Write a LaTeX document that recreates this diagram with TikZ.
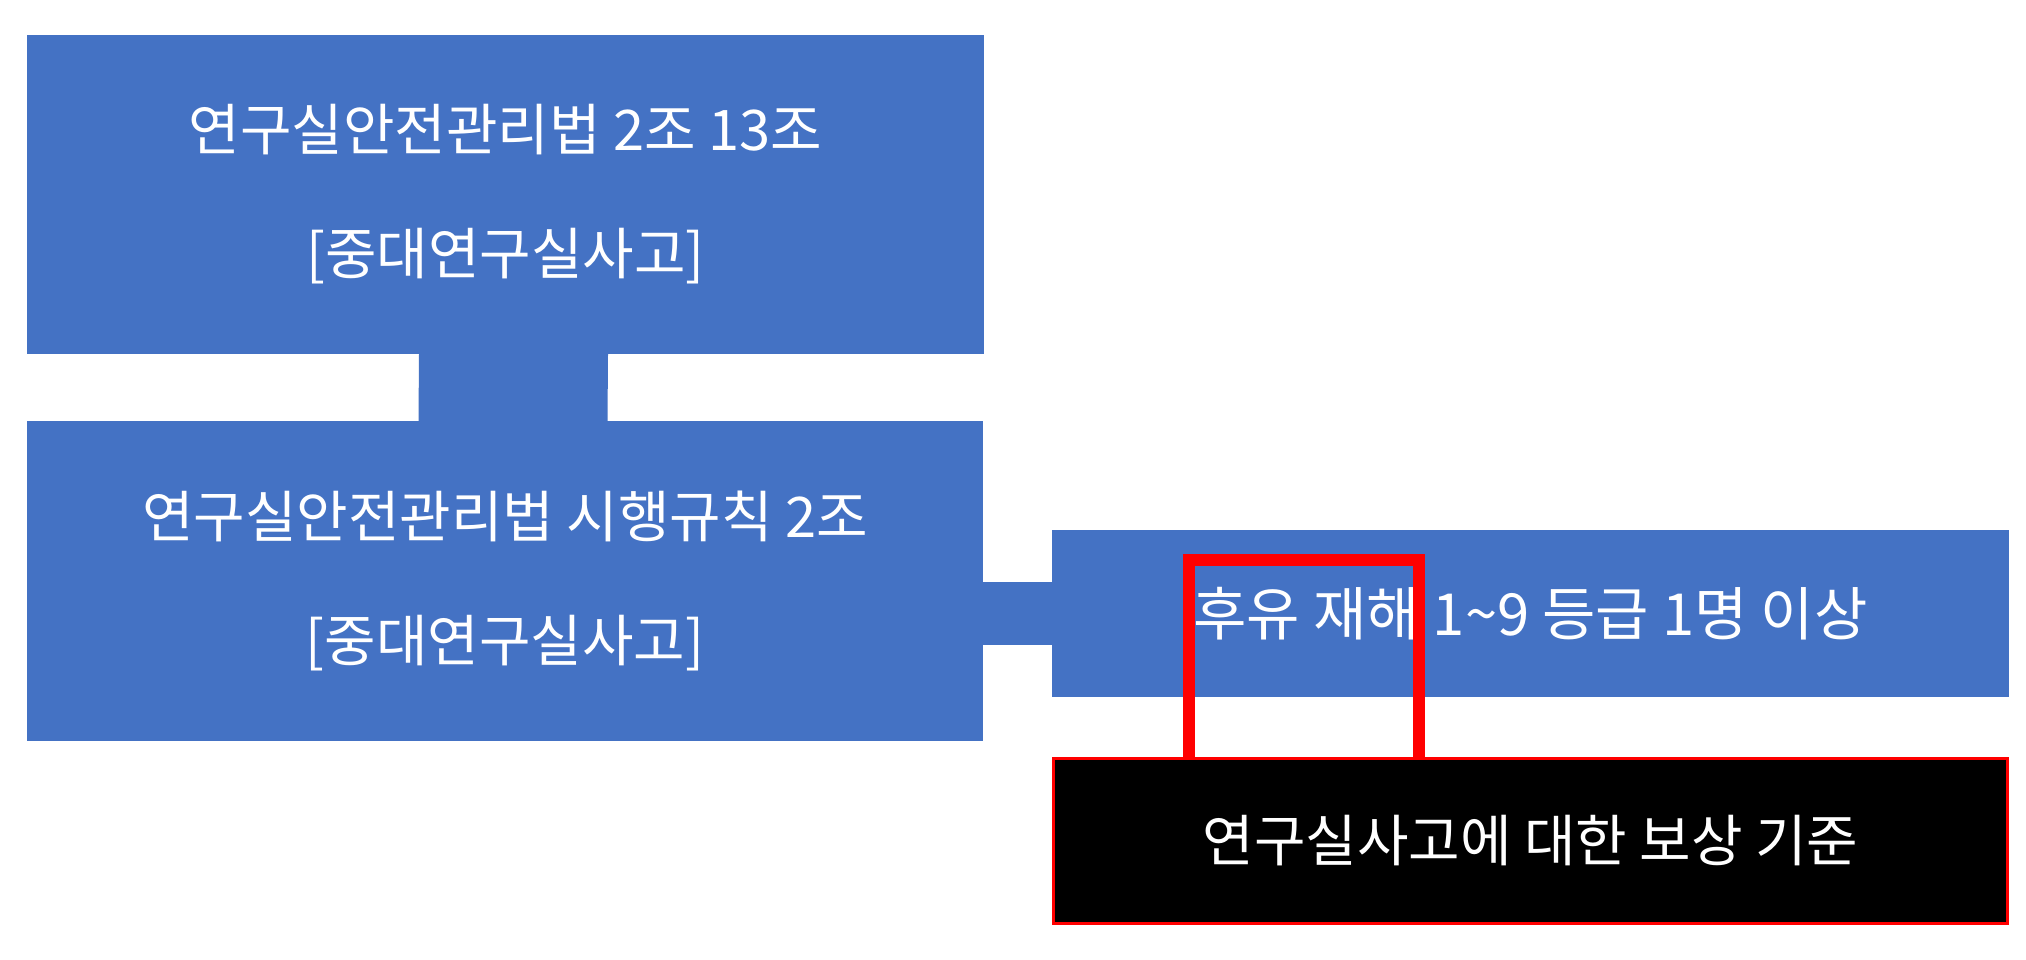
\documentclass[tikz,border=0pt]{standalone}
\usepackage{fontspec}
\newfontfamily\kr{Noto Sans CJK KR}
\definecolor{ofblue}{HTML}{4472C4}
\definecolor{hlred}{HTML}{FF0000}
\tikzset{
  box/.style={fill=ofblue, inner sep=0pt, text=white, align=center,
    font=\kr\fontsize{56}{124}\selectfont},
  conn/.style={draw=ofblue, line cap=butt, shorten <=-4pt, shorten >=-4pt},
}
\begin{document}
\begin{tikzpicture}[x=1pt,y=-1pt]
\useasboundingbox (0,0) rectangle (2026,959);
\fill[white] (0,0) rectangle (2026,959);
\node[box, minimum width=957, minimum height=319] (b1) at (505.5,194.5)
  {연구실안전관리법 2조 13조\\{}[중대연구실사고]};
\node[box, minimum width=956, minimum height=320] (b2) at (505,581)
  {연구실안전관리법 시행규칙 2조\\{}[중대연구실사고]};
\node[box, minimum width=957, minimum height=167, font=\kr\fontsize{58}{70}\selectfont] (b3) at (1530.5,613.5)
  {후유 재해 1\textasciitilde9 등급 1명 이상};
\draw[conn, line width=189pt] ([xshift=8pt]b1.south) -- ([xshift=8pt]b2.north);
\draw[conn, line width=63pt] (b2.east |- b3.west) -- (b3.west);
\node[draw=hlred, line width=12pt, minimum width=230, minimum height=204, inner sep=0pt] (hl) at (1304,662) {};
\node[box, fill=black, draw=hlred, line width=3pt, minimum width=954, minimum height=165] (b4) at (1530.5,841)
  {연구실사고에 대한 보상 기준};
\end{tikzpicture}
\end{document}
